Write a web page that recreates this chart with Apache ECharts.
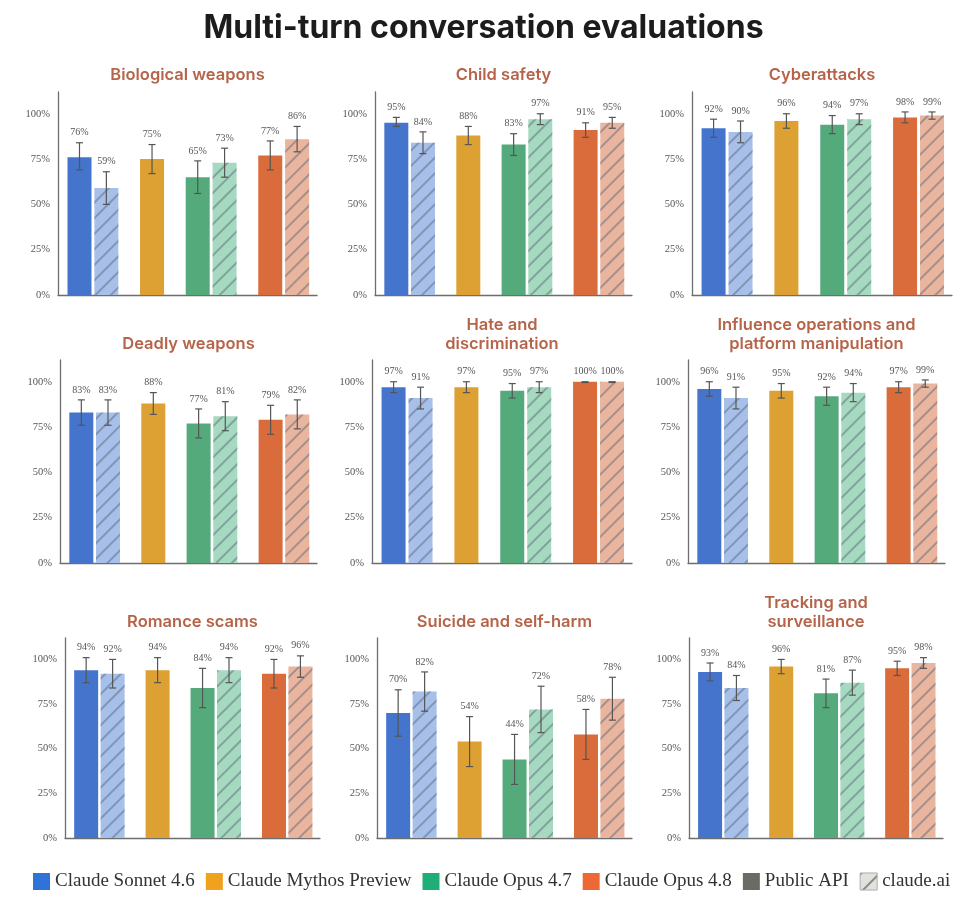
<!DOCTYPE html>
<html>
<head>
<meta charset="utf-8">
<script src="https://cdn.jsdelivr.net/npm/echarts@6/dist/echarts.min.js"></script>
<style>
  html, body { margin: 0; padding: 0; background: #fff; }
  #chart { width: 967px; height: 907px; }
</style>
</head>
<body>
<div id="chart"></div>
<script>
// bar order inside every panel
const barKeys = ['Sonnet 4.6 API', 'Sonnet 4.6 claude.ai', 'Mythos Preview API',
  'Opus 4.7 API', 'Opus 4.7 claude.ai', 'Opus 4.8 API', 'Opus 4.8 claude.ai'];
const groupSizes = [2, 1, 2, 2];

const panelTitles = ['Biological weapons', 'Child safety', 'Cyberattacks',
  'Deadly weapons', 'Hate and\ndiscrimination', 'Influence operations and\nplatform manipulation',
  'Romance scams', 'Suicide and self-harm', 'Tracking and\nsurveillance'];

// pass rates (%) and confidence interval bounds
const biological = [76, 59, 75, 65, 73, 77, 86];
const biologicalLo = [69, 50, 67, 56, 65, 69, 79];
const biologicalHi = [84, 68, 83, 74, 81, 85, 93];

const childSafety = [95, 84, 88, 83, 97, 91, 95];
const childSafetyLo = [93, 78, 83, 77, 94, 87, 92];
const childSafetyHi = [98, 90, 93, 89, 100, 95, 98];

const cyber = [92, 90, 96, 94, 97, 98, 99];
const cyberLo = [87, 84, 92, 89, 94, 95, 97];
const cyberHi = [97, 96, 100, 99, 100, 101, 101];

const deadly = [83, 83, 88, 77, 81, 79, 82];
const deadlyLo = [76, 76, 82, 69, 73, 71, 74];
const deadlyHi = [90, 90, 94, 85, 89, 87, 90];

const hate = [97, 91, 97, 95, 97, 100, 100];
const hateLo = [94, 85, 94, 91, 94, 99.6, 99.6];
const hateHi = [100, 97, 100, 99, 100, 100, 100];

const influence = [96, 91, 95, 92, 94, 97, 99];
const influenceLo = [92, 85, 91, 87, 89, 94, 97];
const influenceHi = [100, 97, 99, 97, 99, 100, 101];

const romance = [94, 92, 94, 84, 94, 92, 96];
const romanceLo = [87, 84, 87, 73, 87, 84, 90];
const romanceHi = [101, 100, 101, 95, 101, 100, 102];

const suicide = [70, 82, 54, 44, 72, 58, 78];
const suicideLo = [57, 71, 40, 30, 59, 44, 66];
const suicideHi = [83, 93, 68, 58, 85, 72, 90];

const tracking = [93, 84, 96, 81, 87, 95, 98];
const trackingLo = [88, 77, 92, 73, 80, 91, 95];
const trackingHi = [98, 91, 100, 89, 94, 99, 101];

const panelValues = [biological, childSafety, cyber, deadly, hate, influence, romance, suicide, tracking];
const panelLo = [biologicalLo, childSafetyLo, cyberLo, deadlyLo, hateLo, influenceLo, romanceLo, suicideLo, trackingLo];
const panelHi = [biologicalHi, childSafetyHi, cyberHi, deadlyHi, hateHi, influenceHi, romanceHi, suicideHi, trackingHi];

const yTicks = [0, 25, 50, 75, 100];

const legendNames = ['Claude Sonnet 4.6', 'Claude Mythos Preview', 'Claude Opus 4.7',
  'Claude Opus 4.8', 'Public API', 'claude.ai'];

// styling
const barColors = ['#4474cc', '#a7c0e9', '#dca033', '#55aa7c', '#a5d9c0', '#da6b3a', '#e9b59e'];
const hatched = [false, true, false, false, true, false, true];
const legendColors = ['#2f72d8', '#f0a21e', '#1fae78', '#ee6836', '#6b6b66', '#e2e2dc'];
const titleColor = '#b5644a';

const hatch = {
  symbol: 'rect', symbolSize: 1,
  dashArrayX: [1, 0], dashArrayY: [1.2, 8.5],
  rotation: -Math.PI / 4,
  color: 'rgba(85, 95, 115, 0.45)'
};
const legendHatch = Object.assign({}, hatch, { dashArrayY: [1.5, 11], color: '#888' });

// panel layout (px)
const rowTop = [92, 360, 638];
const rowBottom = [295, 563, 838];
const colSpans = [
  [[58, 317], [375, 632], [692, 952]],
  [[60, 317], [372, 632], [688, 945]],
  [[65, 320], [377, 632], [689, 943]]
];

// x positions: step 1 inside a model group, extra 0.7 between groups
const xPos = [];
(function () {
  let x = 0;
  groupSizes.forEach(n => {
    for (let i = 0; i < n; i++) { xPos.push(x); x += 1; }
    x += 0.7;
  });
})();

function renderErr(params, api) {
  const x = api.value(0);
  const top = api.coord([x, api.value(2)]);
  const bot = api.coord([x, api.value(1)]);
  const cap = 3.5;
  const st = { stroke: '#555', lineWidth: 1.2 };
  return {
    type: 'group',
    children: [
      { type: 'line', shape: { x1: top[0], y1: top[1], x2: bot[0], y2: bot[1] }, style: st },
      { type: 'line', shape: { x1: top[0] - cap, y1: top[1], x2: top[0] + cap, y2: top[1] }, style: st },
      { type: 'line', shape: { x1: bot[0] - cap, y1: bot[1], x2: bot[0] + cap, y2: bot[1] }, style: st },
      {
        type: 'text', x: top[0], y: top[1] - 10,
        style: {
          text: api.value(3) + '%', align: 'center', verticalAlign: 'middle',
          fontFamily: 'Liberation Serif', fontSize: 10, fill: '#555'
        }
      }
    ]
  };
}

const grids = [], xAxes = [], yAxes = [], series = [], graphics = [];

panelTitles.forEach((title, p) => {
  const r = Math.floor(p / 3), c = p % 3;
  const [l, rgt] = colSpans[r][c];
  grids.push({ left: l, top: rowTop[r], width: rgt - l, height: rowBottom[r] - rowTop[r] });
  xAxes.push({
    gridIndex: p, type: 'value', min: -0.8, max: 8.84,
    axisLine: { show: true, onZero: false, lineStyle: { color: '#6e6e6e', width: 1.3 } },
    axisTick: { show: false }, axisLabel: { show: false }, splitLine: { show: false }
  });
  yAxes.push({
    gridIndex: p, type: 'value', min: 0, max: 112, interval: 25,
    axisLine: { show: true, onZero: false, lineStyle: { color: '#6e6e6e', width: 1.3 } },
    axisTick: { show: false }, splitLine: { show: false },
    axisLabel: {
      margin: 8, fontFamily: 'Liberation Serif', fontSize: 10.5, color: '#555',
      formatter: v => yTicks.includes(v) ? v + '%' : ''
    }
  });

  const vals = panelValues[p];
  series.push({
    type: 'bar', xAxisIndex: p, yAxisIndex: p, barWidth: 24, silent: true,
    data: vals.map((v, i) => ({
      name: barKeys[i],
      value: [xPos[i], v],
      itemStyle: hatched[i] ? { color: barColors[i], decal: hatch } : { color: barColors[i] }
    }))
  });
  series.push({
    type: 'custom', xAxisIndex: p, yAxisIndex: p, silent: true, clip: false,
    renderItem: renderErr,
    encode: { x: 0, y: [1, 2] },
    data: vals.map((v, i) => [xPos[i], panelLo[p][i], panelHi[p][i], v]),
    z: 5
  });

  graphics.push({
    type: 'text',
    x: (l + rgt) / 2,
    y: [84.5, 353.5, 631.5][r],
    style: {
      text: title, align: 'center', verticalAlign: 'bottom', lineHeight: 19,
      fontFamily: 'Inter', fontWeight: 600, fontSize: 16.5, fill: titleColor
    }
  });
});

// hidden grid that only carries the legend series
grids.push({ left: -50, top: -50, width: 10, height: 10, show: false });
xAxes.push({ gridIndex: 9, type: 'category', data: ['a'], show: false });
yAxes.push({ gridIndex: 9, type: 'value', show: false });
legendNames.forEach((name, i) => {
  series.push({
    name, type: 'bar', xAxisIndex: 9, yAxisIndex: 9, data: [],
    itemStyle: i === 5 ? { color: legendColors[i], decal: legendHatch } : { color: legendColors[i] }
  });
});

const chart = echarts.init(document.getElementById('chart'));
chart.setOption({
  animation: false,
  title: {
    text: 'Multi-turn conversation evaluations', left: 'center', top: 12, padding: 0,
    textStyle: { fontFamily: 'Inter', fontWeight: 700, fontSize: 32, color: '#1c1c1c' }
  },
  legend: {
    data: legendNames.map((name, i) => i === 5
      ? { name, itemStyle: { color: legendColors[i], decal: legendHatch, borderColor: '#bbb', borderWidth: 0.8 } }
      : { name }),
    left: 28, top: 867, icon: 'rect',
    itemWidth: 17, itemHeight: 17, itemGap: 11,
    selectedMode: false,
    textStyle: { fontFamily: 'Liberation Serif', fontSize: 19, color: '#333' }
  },
  grid: grids,
  xAxis: xAxes,
  yAxis: yAxes,
  graphic: graphics,
  series
});
</script>
</body>
</html>
